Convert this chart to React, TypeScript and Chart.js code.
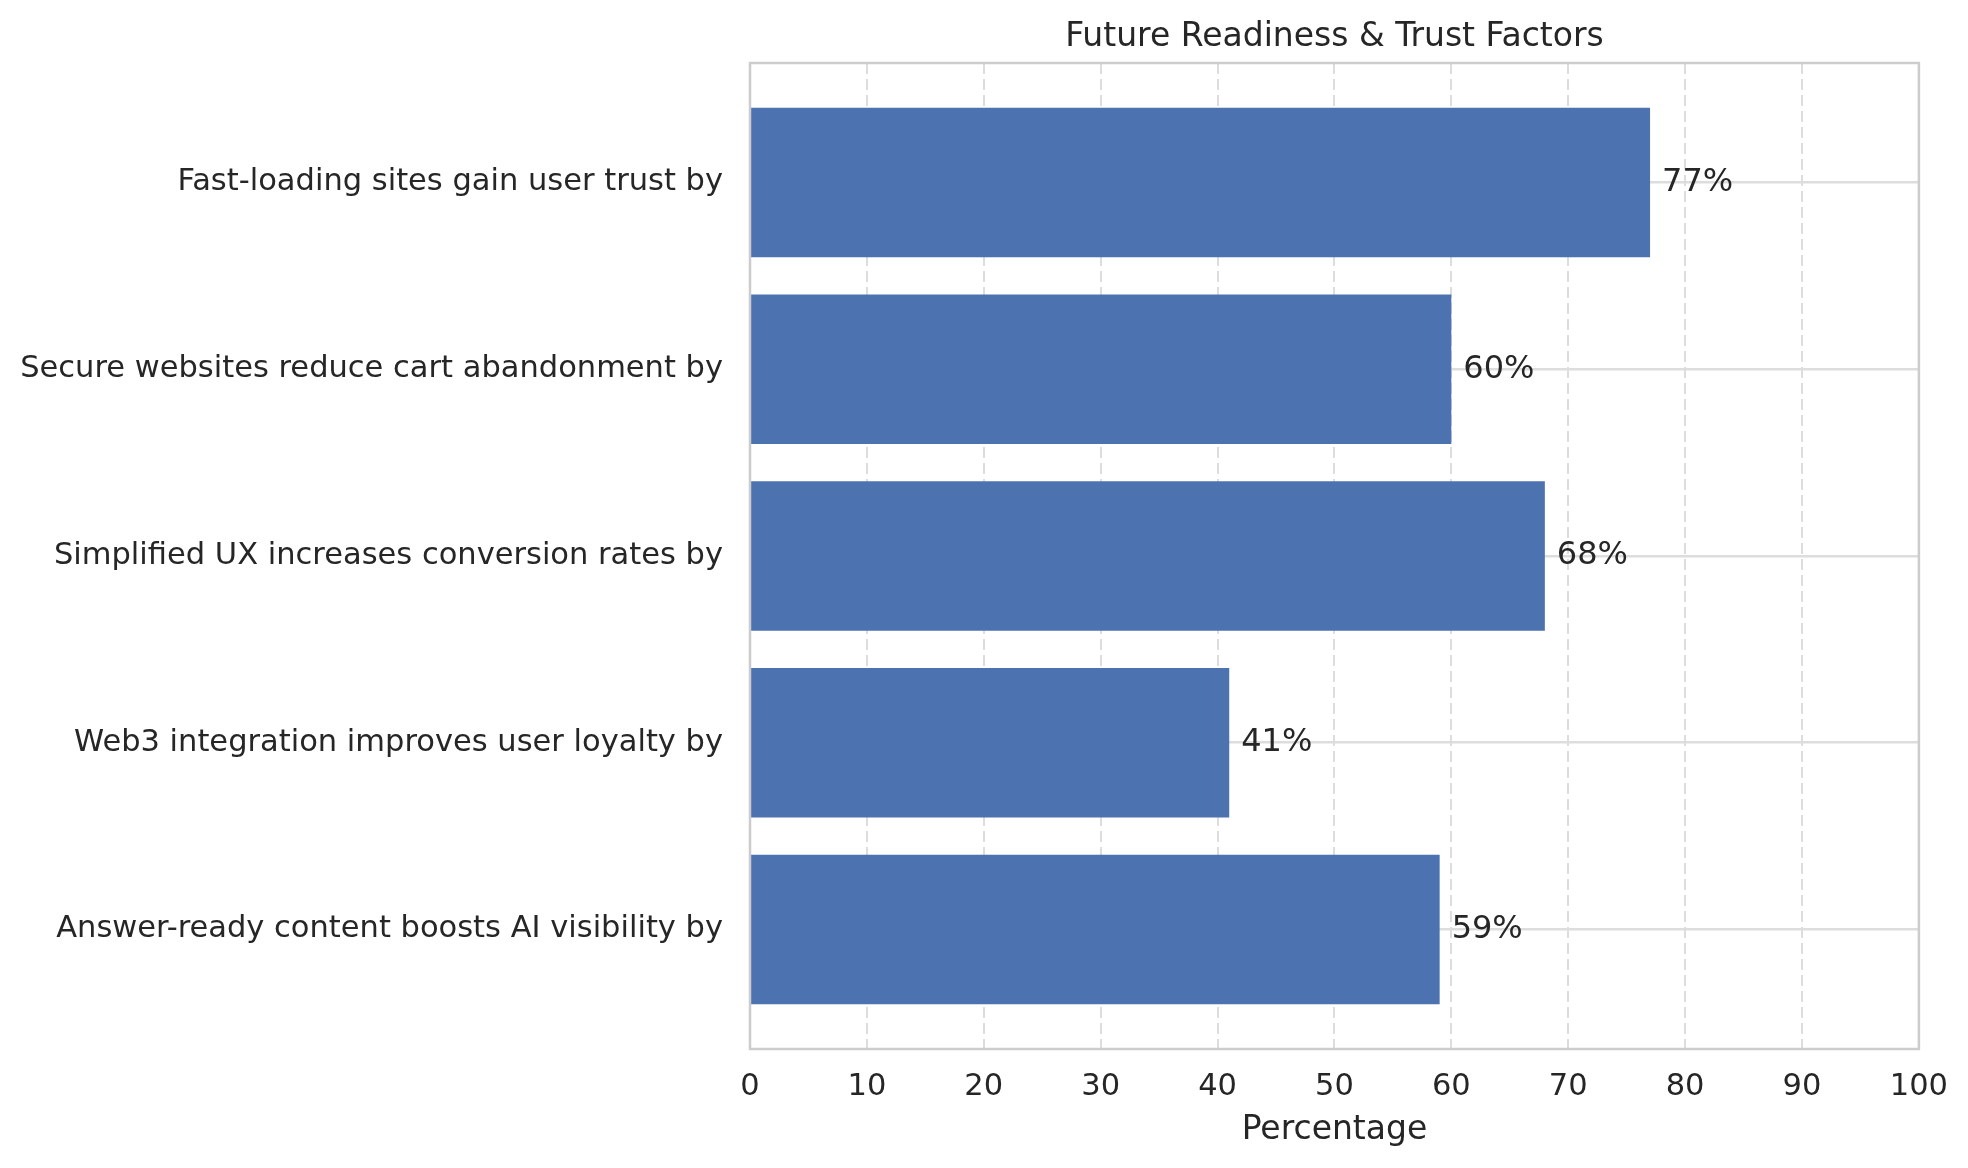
import React, { useEffect, useRef } from "react";
import { Chart, registerables } from "chart.js";

Chart.register(...registerables);

const categories = [
  "Fast-loading sites gain user trust by",
  "Secure websites reduce cart abandonment by",
  "Simplified UX increases conversion rates by",
  "Web3 integration improves user loyalty by",
  "Answer-ready content boosts AI visibility by",
];
const values = [77, 60, 68, 41, 59];
const xTicks = [0, 10, 20, 30, 40, 50, 60, 70, 80, 90, 100];
const titleText = "Future Readiness & Trust Factors";

const FONT = "'DejaVu Sans', sans-serif";
const TEXT = "#262626";

const framePlugin = {
  id: "frame",
  afterDatasetsDraw(chart: any) {
    const { ctx, chartArea } = chart;
    ctx.save();
    ctx.strokeStyle = "#cccccc";
    ctx.lineWidth = 2.5;
    ctx.setLineDash([]);
    ctx.strokeRect(chartArea.left, chartArea.top, chartArea.right - chartArea.left, chartArea.bottom - chartArea.top);
    ctx.font = `33px ${FONT}`;
    ctx.fillStyle = TEXT;
    ctx.textAlign = "center";
    ctx.textBaseline = "middle";
    ctx.fillText(titleText, (chartArea.left + chartArea.right) / 2, 37);
    ctx.restore();
  },
};

const valueLabelPlugin = {
  id: "valueLabels",
  afterDatasetsDraw(chart: any) {
    const { ctx } = chart;
    const meta = chart.getDatasetMeta(0);
    ctx.save();
    ctx.font = `32px ${FONT}`;
    ctx.fillStyle = TEXT;
    ctx.textAlign = "left";
    ctx.textBaseline = "middle";
    meta.data.forEach((bar: any, i: number) => {
      ctx.fillText(`${values[i]}%`, bar.x + 12, bar.y);
    });
    ctx.restore();
  },
};

export default function App() {
  const ref = useRef<HTMLCanvasElement>(null);
  useEffect(() => {
    document.body.style.margin = "0";
    const chart = new Chart(ref.current!, {
      type: "bar",
      data: {
        datasets: [
          {
            data: values.map((v, i) => ({ x: v, y: i })),
            backgroundColor: "#4C72B0",
            borderWidth: 0,
            barPercentage: 0.8,
            categoryPercentage: 1.0,
          },
        ],
      },
      options: {
        animation: false,
        responsive: false,
        devicePixelRatio: 1,
        indexAxis: "y",
        layout: { padding: { left: 0, right: 49, top: 63, bottom: 0 } },
        plugins: {
          legend: { display: false },
          tooltip: { enabled: false },
          title: { display: false },
        },
        scales: {
          x: {
            type: "linear",
            min: 0,
            max: 100,
            offset: false,
            afterBuildTicks: (s: any) => {
              s.ticks = xTicks.map((v) => ({ value: v }));
            },
            afterFit: (s: any) => {
              s.height = 119;
            },
            ticks: {
              color: TEXT,
              font: { family: FONT, size: 30.5 },
              padding: 20,
              maxRotation: 0,
            },
            grid: {
              color: "#dddddd",
              lineWidth: 2,
              drawTicks: false,
              offset: false,
            },
            border: { display: false, dash: [11, 5] },
            title: {
              display: true,
              text: "Percentage",
              color: TEXT,
              font: { family: FONT, size: 33 },
              padding: { top: 0, bottom: 18 },
            },
          },
          y: {
            type: "linear",
            reverse: true,
            min: -0.64,
            max: 4.64,
            offset: false,
            afterBuildTicks: (s: any) => {
              s.ticks = categories.map((_, i) => ({ value: i }));
            },
            afterFit: (s: any) => {
              s.width = 750;
            },
            ticks: {
              color: TEXT,
              font: { family: FONT, size: 30.5 },
              padding: 27,
              callback: (v: any) => categories[v as number] ?? "",
            },
            grid: {
              color: "#dddddd",
              lineWidth: 2.5,
              drawTicks: false,
              offset: false,
            },
            border: { display: false },
          },
        },
      },
      plugins: [framePlugin, valueLabelPlugin],
    } as any);
    return () => chart.destroy();
  }, []);
  return <canvas ref={ref} width={1968} height={1168} style={{ display: "block" }} />;
}
